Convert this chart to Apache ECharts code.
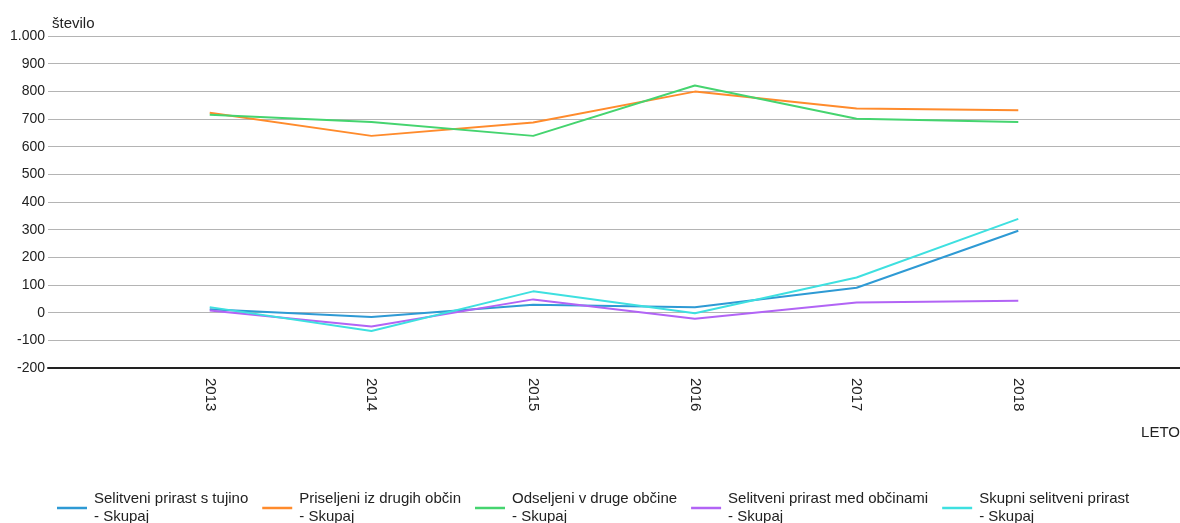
<!DOCTYPE html>
<html>
<head>
<meta charset="utf-8">
<script src="https://cdn.jsdelivr.net/npm/echarts@6/dist/echarts.min.js"></script>
<style>
html,body{margin:0;padding:0;background:#fff;}
#chart{width:1180px;height:523px;}
</style>
</head>
<body>
<div id="chart"></div>
<script>
const years = [2013, 2014, 2015, 2016, 2017, 2018];
const seriesNames = [
  'Selitveni prirast s tujino\n- Skupaj',
  'Priseljeni iz drugih občin\n- Skupaj',
  'Odseljeni v druge občine\n- Skupaj',
  'Selitveni prirast med občinami\n- Skupaj',
  'Skupni selitveni prirast\n- Skupaj'
];
const prirastTujina = [12, -16, 29, 20, 90, 296];
const priseljeni = [723, 639, 687, 799, 738, 732];
const odseljeni = [715, 689, 639, 821, 701, 689];
const prirastObcine = [8, -50, 48, -22, 37, 43];
const skupniPrirast = [20, -66, 77, -2, 127, 339];
const colors = ['#2e9ad4', '#ff8b2c', '#45d46f', '#b264f5', '#3ee0e0'];
const yTicks = [-200, -100, 0, 100, 200, 300, 400, 500, 600, 700, 800, 900, 1000];

const allValues = [prirastTujina, priseljeni, odseljeni, prirastObcine, skupniPrirast];
const FONT = '"Liberation Sans", Arial, sans-serif';

const chart = echarts.init(document.getElementById('chart'), null, {renderer: 'canvas'});
chart.setOption({
  animation: false,
  color: colors,
  grid: {left: 48, right: 0, top: 36, bottom: 155, containLabel: false},
  xAxis: {
    type: 'value',
    min: 2012, max: 2019, interval: 1,
    axisLine: {show: true, onZero: false, lineStyle: {color: '#222', width: 2}},
    axisTick: {show: false},
    splitLine: {show: false},
    axisLabel: {
      rotate: -90, margin: 10, fontFamily: FONT, fontSize: 15, color: '#222',
      formatter: v => years.indexOf(v) >= 0 ? String(v) : ''
    }
  },
  yAxis: {
    type: 'value',
    min: yTicks[0], max: yTicks[yTicks.length - 1], interval: 100,
    name: 'število',
    nameLocation: 'end',
    nameGap: 5,
    nameTextStyle: {align: 'left', padding: [0, 0, 0, 4], fontFamily: FONT, fontSize: 15, color: '#222'},
    axisLine: {show: false},
    axisTick: {show: false},
    axisLabel: {
      margin: 3, fontFamily: FONT, fontSize: 14, color: '#222',
      formatter: v => v.toLocaleString('de-DE')
    },
    splitLine: {lineStyle: {color: '#b4b4b4', width: 1}}
  },
  graphic: [{
    type: 'text',
    right: 0, top: 425,
    style: {text: 'LETO', fontFamily: FONT, fontSize: 15, fill: '#222'}
  }],
  legend: {
    left: 57, top: 490, padding: 0,
    itemWidth: 30, itemHeight: 2.5, itemGap: 14,
    icon: 'rect',
    textStyle: {fontFamily: FONT, fontSize: 15, color: '#222', lineHeight: 18, padding: [0, 0, 0, 2]},
    data: seriesNames
  },
  series: seriesNames.map((n, i) => ({
    name: n,
    type: 'line',
    symbol: 'none',
    lineStyle: {width: 2},
    data: years.map((y, j) => [y, allValues[i][j]])
  }))
});
</script>
</body>
</html>
